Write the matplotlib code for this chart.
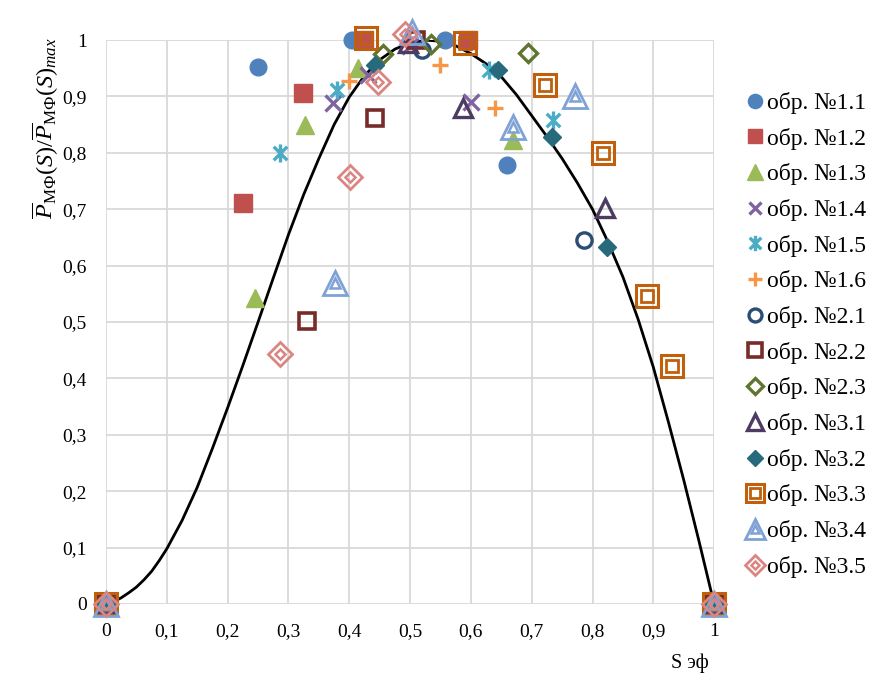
import numpy as np
import matplotlib
matplotlib.use('Agg')
from matplotlib import pyplot as plt
from matplotlib.path import Path

plt.rcParams['font.family'] = ['Liberation Serif', 'DejaVu Serif']
plt.rcParams['mathtext.fontset'] = 'custom'
plt.rcParams['mathtext.rm'] = 'Liberation Serif'
plt.rcParams['mathtext.it'] = 'Liberation Serif:italic'

# curve
curve_x = [0, 0.0125, 0.025, 0.0375, 0.05, 0.0625, 0.075, 0.0875, 0.1, 0.125, 0.15,
           0.175, 0.2, 0.225, 0.25, 0.275, 0.3, 0.325, 0.35, 0.375, 0.4, 0.425, 0.45,
           0.475, 0.5, 0.525, 0.55, 0.575, 0.6, 0.625, 0.65, 0.675, 0.7, 0.725, 0.75,
           0.775, 0.8, 0.825, 0.85, 0.875, 0.9, 0.925, 0.95, 0.975, 1.0]
curve_y = [0, 0.004, 0.011, 0.02, 0.03, 0.043, 0.058, 0.077, 0.098, 0.148, 0.207,
           0.276, 0.348, 0.423, 0.50, 0.578, 0.655, 0.726, 0.79, 0.85, 0.899, 0.937, 0.965,
           0.984, 0.995, 1.0, 0.998, 0.99, 0.976, 0.958, 0.935, 0.903, 0.866, 0.829, 0.79,
           0.747, 0.70, 0.643, 0.58, 0.505, 0.42, 0.322, 0.22, 0.112, 0.0]

# measured points per sample
s11_x = [0, 0.25, 0.405, 0.558, 0.66, 1]
s11_y = [0, 0.952, 1.0, 1.0, 0.778, 0]
s12_x = [0, 0.225, 0.324, 0.425, 0.595, 1]
s12_y = [0, 0.711, 0.906, 1.0, 1.0, 0]
s13_x = [0, 0.245, 0.327, 0.415, 0.67, 1]
s13_y = [0, 0.543, 0.849, 0.95, 0.823, 0]
s14_x = [0, 0.373, 0.43, 0.5, 0.60, 1]
s14_y = [0, 0.888, 0.938, 0.99, 0.89, 0]
s15_x = [0, 0.286, 0.38, 0.63, 0.735, 1]
s15_y = [0, 0.80, 0.911, 0.947, 0.858, 0]
s16_x = [0, 0.40, 0.55, 0.64, 1]
s16_y = [0, 0.927, 0.956, 0.88, 0]
s21_x = [0, 0.52, 0.786, 1]
s21_y = [0, 0.982, 0.645, 0]
s22_x = [0, 0.331, 0.442, 0.51, 1]
s22_y = [0, 0.502, 0.862, 1.0, 0]
s23_x = [0, 0.455, 0.535, 0.694, 1]
s23_y = [0, 0.975, 0.993, 0.977, 0]
s31_x = [0, 0.497, 0.587, 0.82, 1]
s31_y = [0, 0.995, 0.88, 0.702, 0]
s32_x = [0, 0.443, 0.645, 0.733, 0.824, 1]
s32_y = [0, 0.955, 0.947, 0.828, 0.633, 0]
s33_x = [0, 0.428, 0.59, 0.722, 0.818, 0.89, 0.93, 1]
s33_y = [0, 1.003, 0.995, 0.92, 0.80, 0.546, 0.422, 0]
s34_x = [0, 0.377, 0.503, 0.67, 0.771, 1]
s34_y = [0, 0.569, 1.015, 0.846, 0.90, 0]
s35_x = [0, 0.286, 0.401, 0.447, 0.492, 1]
s35_y = [0, 0.443, 0.757, 0.925, 1.01, 0]

labels = ['обр. №1.1', 'обр. №1.2', 'обр. №1.3', 'обр. №1.4', 'обр. №1.5',
          'обр. №1.6', 'обр. №2.1', 'обр. №2.2', 'обр. №2.3', 'обр. №3.1',
          'обр. №3.2', 'обр. №3.3', 'обр. №3.4', 'обр. №3.5']
tick_vals = [0, 0.1, 0.2, 0.3, 0.4, 0.5, 0.6, 0.7, 0.8, 0.9, 1]
tick_labels = ['0', '0,1', '0,2', '0,3', '0,4', '0,5', '0,6', '0,7', '0,8', '0,9', '1']

star = Path([(0, -1), (0, 1), (-0.75, -0.75), (0.75, 0.75), (-0.75, 0.75), (0.75, -0.75)],
            [Path.MOVETO, Path.LINETO, Path.MOVETO, Path.LINETO, Path.MOVETO, Path.LINETO])

fig = plt.figure(figsize=(8.8, 6.81), dpi=100)
ax = fig.add_axes([0.1205, 0.1131, 0.691, 0.828])

ax.plot(curve_x, curve_y, color='black', linewidth=2, zorder=2)


def pts(x, y, **kw):
    ln, = ax.plot(x, y, linestyle='none', clip_on=False, zorder=3, **kw)
    return ln


handles = []
handles.append(pts(s11_x, s11_y, marker='o', ms=12, mfc='#4F81BD', mec='#4F81BD'))
handles.append(pts(s12_x, s12_y, marker='s', ms=12.5, mfc='#C0504D', mec='#C0504D'))
handles.append(pts(s13_x, s13_y, marker='^', ms=13, mfc='#9BBB59', mec='#9BBB59'))
handles.append(pts(s14_x, s14_y, marker='x', ms=11, mew=2.4, color='#8064A2'))
handles.append(pts(s15_x, s15_y, marker=star, ms=13, mew=2.4, mfc='none', mec='#4BACC6'))
handles.append(pts(s16_x, s16_y, marker='+', ms=12, mew=2.4, color='#F79646'))
handles.append(pts(s21_x, s21_y, marker='o', ms=11, mew=2.4, mfc='none', mec='#2C4D75'))
handles.append(pts(s22_x, s22_y, marker='s', ms=12, mew=2.6, mfc='none', mec='#772C2A'))
handles.append(pts(s23_x, s23_y, marker='D', ms=9, mew=2.4, mfc='none', mec='#5F7530'))
handles.append(pts(s31_x, s31_y, marker='^', ms=13, mew=2.4, mfc='none', mec='#4D3B62'))
handles.append(pts(s32_x, s32_y, marker='D', ms=9.5, mfc='#276A7C', mec='#276A7C'))
a = pts(s33_x, s33_y, marker='s', ms=16, mew=2.2, mfc='none', mec='#C0600C')
b = pts(s33_x, s33_y, marker='s', ms=8, mew=2.0, mfc='none', mec='#C0600C')
handles.append((a, b))
a = pts(s34_x, s34_y, marker='^', ms=17, mew=2.0, mfc='none', mec='#7FA2D6')
b = pts(s34_x, s34_y, marker='^', ms=7, mew=1.8, mfc='none', mec='#7FA2D6')
handles.append((a, b))
a = pts(s35_x, s35_y, marker='D', ms=12.5, mew=2.0, mfc='none', mec='#DB8583')
b = pts(s35_x, s35_y, marker='D', ms=5, mew=1.8, mfc='none', mec='#DB8583')
handles.append((a, b))

ax.set_xlim(0, 1)
ax.set_ylim(0, 1)
ax.set_xticks(tick_vals)
ax.set_xticklabels(tick_labels)
ax.set_yticks(tick_vals)
ax.set_yticklabels(tick_labels)
ax.tick_params(length=0, labelsize=14, pad=14)
ax.grid(color='#D9D9D9', linewidth=1.3)
ax.set_axisbelow(True)
for sp in ax.spines.values():
    sp.set_visible(False)

fig.legend(handles, labels, loc='upper left', bbox_to_anchor=(0.836, 0.879),
           frameon=False, fontsize=17, handlelength=0.8, handletextpad=0.12,
           labelspacing=0.58, markerscale=0.85, borderaxespad=0)

fig.text(0.051, 0.812,
         r'$\overline{P}_{\mathrm{МФ}}(S)/\overline{P}_{\mathrm{МФ}}(S)_{max}$',
         rotation=90, ha='center', va='center', fontsize=17.5)
fig.text(0.763, 0.026, 'S эф', ha='left', va='center', fontsize=14.5)

plt.savefig('out.png', dpi=100)
